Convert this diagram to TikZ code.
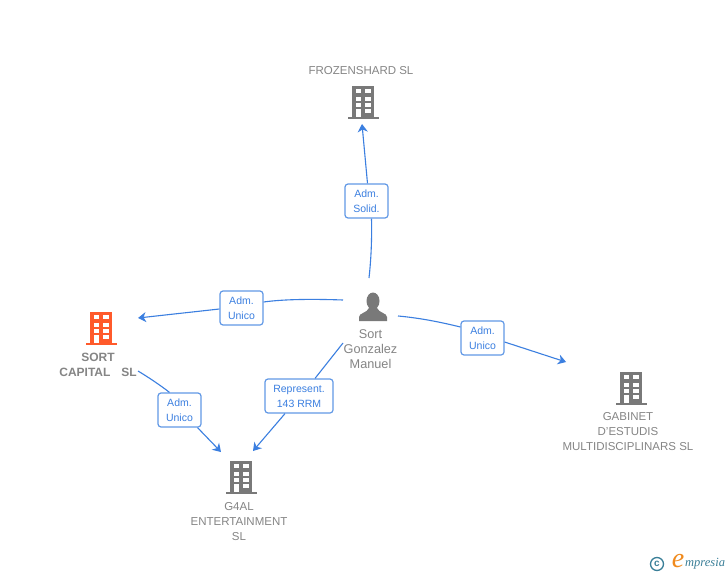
\documentclass[tikz,border=0pt]{standalone}
\usepackage{fontspec}
\setmainfont{Liberation Sans}
\newfontfamily\logofont{Liberation Serif}
\usetikzlibrary{arrows.meta,positioning}
\definecolor{linkblue}{HTML}{3B7FE0}
\definecolor{iconGrey}{HTML}{797979}
\definecolor{textGrey}{HTML}{858585}
\definecolor{sortRed}{HTML}{FF5A2B}
\definecolor{logoTeal}{HTML}{3A7F98}
\definecolor{logoOrange}{HTML}{F08A1D}
\tikzset{
  rel/.style={rectangle,draw=linkblue!80,fill=white,line width=1.2pt,rounded corners=3pt,inner sep=0pt,
    font=\fontsize{10.5}{15}\selectfont,text=linkblue,align=center},
  firmname/.style={font=\fontsize{11.5}{15}\selectfont,text=textGrey,align=center,inner sep=0pt},
  link/.style={draw=linkblue,line width=1.1pt},
  tip/.style={-{Stealth[length=8pt,width=10pt,inset=2.5pt]}},
  building/.pic={
    \fill[pic actions] (-11,-16) rectangle (11,15);
    \fill[pic actions] (-15,15) rectangle (16,17);
    \fill[white] (-7,-13) rectangle (-2,-9);
    \fill[white] (2,-13) rectangle (8,-9);
    \fill[white] (-7,-5) rectangle (-2,-1);
    \fill[white] (2,-5) rectangle (8,-1);
    \fill[white] (-7,1) rectangle (-2,5);
    \fill[white] (2,1) rectangle (8,5);
    \fill[white] (-7,7) rectangle (-2,15);
    \fill[white] (2,7) rectangle (8,11);
  },
  person/.pic={
    \fill[iconGrey] (0,-6) ellipse (6.5 and 8.5);
    \fill[iconGrey] (-14,14) -- (-14,10) .. controls (-14,6) and (-6,6) .. (-4,1) -- (4,1) .. controls (6,6) and (14,6) .. (14,10) -- (14,14) -- cycle;
  }
}
\begin{document}
\begin{tikzpicture}[x=1pt,y=-1pt]
\useasboundingbox[fill=white] (0,0) rectangle (728,575);
\pic[fill=iconGrey] at (363,102) {building};
\pic[fill=sortRed] at (100.5,328) {building};
\pic[fill=iconGrey] at (241,477) {building};
\pic[fill=iconGrey] at (631,388) {building};
\pic at (373,307) {person};
\node[firmname] (frozenshard) at (361,71) {FROZENSHARD SL};
\node[firmname,font=\fontsize{12}{15}\selectfont\bfseries] (sortcapital) at (98,364.5) {SORT\\CAPITAL\hspace{0.9em}SL};
\node[firmname,font=\fontsize{12.7}{15}\selectfont] (sortgonzalez) at (370.5,349) {Sort\\Gonzalez\\Manuel};
\node[firmname] (gforal) at (239,522) {G4AL\\ENTERTAINMENT\\SL};
\node[firmname] (gabinet) at (628,432) {GABINET\\D'ESTUDIS\\MULTIDISCIPLINARS SL};
\node[rel,minimum width=43pt,minimum height=34pt] (admsolid) at (366.5,201) {Adm.\\Solid.};
\node[rel,minimum width=43pt,minimum height=34pt] (admleft) at (241.5,308) {Adm.\\Unico};
\node[rel,minimum width=43pt,minimum height=34pt] (admright) at (482.5,338) {Adm.\\Unico};
\node[rel,minimum width=43pt,minimum height=34pt] (admsort) at (179.5,410) {Adm.\\Unico};
\node[rel,minimum width=68pt,minimum height=34pt] (represent) at (299,396) {Represent.\\143 RRM};
\coordinate (toppersona) at (369,278);
\coordinate (leftpersona) at (343,300);
\coordinate (rightpersona) at (398,316);
\coordinate (downpersona) at (343,343);
\coordinate (sortout) at (138,371);
\coordinate (frozenin) at (362,124);
\coordinate (sortin) at (138,318);
\coordinate (gabinetin) at (566,362);
\coordinate (gforalleft) at (221,452);
\coordinate (gforalright) at (253,451);
\draw[link] (toppersona) .. controls (371,260) and (372,240) .. ([xshift=5pt]admsolid.south);
\draw[link,tip] ([xshift=1pt]admsolid.north) to (frozenin);
\draw[link] (leftpersona) .. controls (315,299) and (285,299) .. ([yshift=6pt]admleft.east);
\draw[link,tip] ([yshift=-1pt]admleft.west) to (sortin);
\draw[link] (rightpersona) .. controls (420,318) and (440,322) .. ([yshift=11pt]admright.west);
\draw[link,tip] ([yshift=-4pt]admright.east) to (gabinetin);
\draw[link] (downpersona) to ([xshift=16pt]represent.north);
\draw[link,tip] ([xshift=-14pt]represent.south) to (gforalright);
\draw[link] (sortout) .. controls (148,377) and (160,385) .. ([xshift=-10pt]admsort.north);
\draw[link,tip] ([xshift=18pt]admsort.south) to (gforalleft);
\node[circle,draw=logoTeal,line width=1.3pt,text=logoTeal,inner sep=0pt,minimum size=13pt,font=\fontsize{10}{10}\selectfont\bfseries] (copyr) at (657,564) {c};
\node[font=\fontsize{28}{28}\selectfont\logofont\itshape,text=logoOrange,inner sep=0pt] (logoe) at (678,561) {e};
\node[font=\fontsize{12.5}{14}\selectfont\logofont\itshape,text=logoTeal,inner sep=0pt,anchor=west] (logotext) at (685,564) {mpresia};
\end{tikzpicture}
\end{document}
